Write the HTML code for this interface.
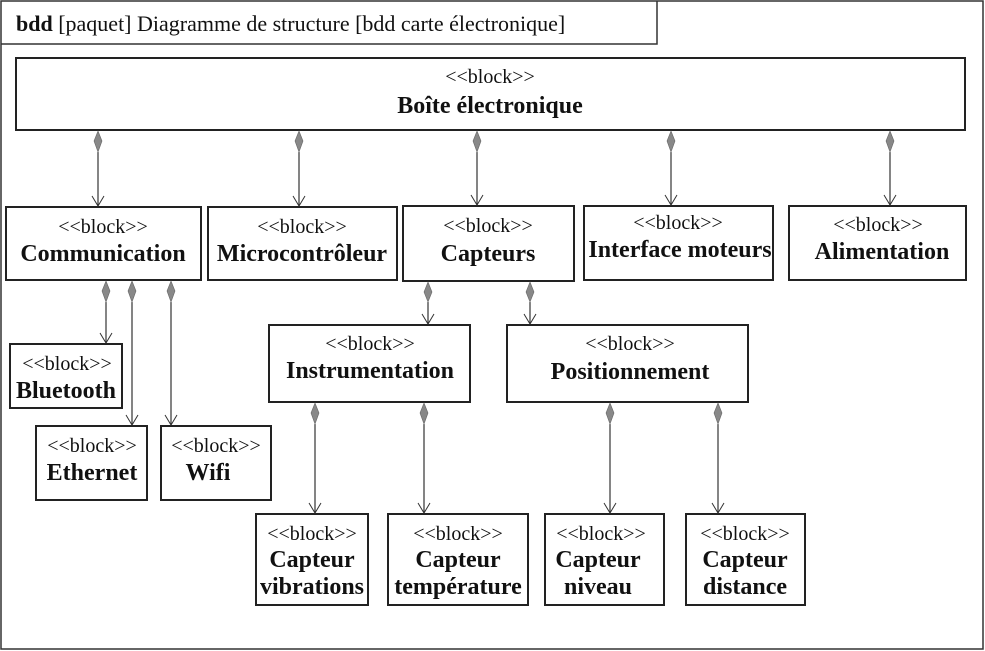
<!DOCTYPE html>
<html><head><meta charset="utf-8"><style>
html,body{margin:0;padding:0;background:#fff}
svg{display:block}
text{font-family:"Liberation Serif",serif;fill:#111}
.s{font-size:20px}
.b{font-size:24px;font-weight:bold}
</style></head><body>
<svg width="985" height="651" viewBox="0 0 985 651">
<defs>
<marker id="a" markerWidth="14" markerHeight="14" refX="12" refY="7" orient="auto" markerUnits="userSpaceOnUse">
<path d="M2,1 L12,7 L2,13" fill="none" stroke="#333" stroke-width="1"/></marker>
</defs>
<rect x="1" y="1" width="982" height="648" fill="none" stroke="#333" stroke-width="1.5"/>
<path d="M1,44 H657 V1" fill="none" stroke="#333" stroke-width="1.5"/>
<text x="16" y="31" style="font-size:22px"><tspan font-weight="bold">bdd</tspan> [paquet] Diagramme de structure [bdd carte électronique]</text>
<g fill="#fff" stroke="#222" stroke-width="2">
<rect x="16" y="58" width="949" height="72"/>
<rect x="6" y="207" width="195" height="73"/>
<rect x="208" y="207" width="189" height="73"/>
<rect x="403" y="206" width="171" height="75"/>
<rect x="584" y="206" width="189" height="74"/>
<rect x="789" y="206" width="177" height="74"/>
<rect x="10" y="344" width="112" height="64"/>
<rect x="36" y="426" width="111" height="74"/>
<rect x="161" y="426" width="110" height="74"/>
<rect x="269" y="325" width="201" height="77"/>
<rect x="507" y="325" width="241" height="77"/>
<rect x="256" y="514" width="112" height="91"/>
<rect x="388" y="514" width="140" height="91"/>
<rect x="545" y="514" width="119" height="91"/>
<rect x="686" y="514" width="119" height="91"/>
</g>
<g text-anchor="middle">
<text class="s" x="490" y="83">&lt;&lt;block&gt;&gt;</text><text class="b" x="490" y="113">Boîte électronique</text>
<text class="s" x="103" y="233">&lt;&lt;block&gt;&gt;</text><text class="b" x="103" y="261">Communication</text>
<text class="s" x="302" y="233">&lt;&lt;block&gt;&gt;</text><text class="b" x="302" y="261">Microcontrôleur</text>
<text class="s" x="488" y="232">&lt;&lt;block&gt;&gt;</text><text class="b" x="488" y="261">Capteurs</text>
<text class="s" x="678" y="229">&lt;&lt;block&gt;&gt;</text><text class="b" x="680" y="257">Interface moteurs</text>
<text class="s" x="878" y="231">&lt;&lt;block&gt;&gt;</text><text class="b" x="882" y="259">Alimentation</text>
<text class="s" x="67" y="370">&lt;&lt;block&gt;&gt;</text><text class="b" x="66" y="398">Bluetooth</text>
<text class="s" x="92" y="452">&lt;&lt;block&gt;&gt;</text><text class="b" x="92" y="480">Ethernet</text>
<text class="s" x="216" y="452">&lt;&lt;block&gt;&gt;</text><text class="b" x="208" y="480">Wifi</text>
<text class="s" x="370" y="350">&lt;&lt;block&gt;&gt;</text><text class="b" x="370" y="378">Instrumentation</text>
<text class="s" x="630" y="350">&lt;&lt;block&gt;&gt;</text><text class="b" x="630" y="379">Positionnement</text>
<text class="s" x="312" y="540">&lt;&lt;block&gt;&gt;</text><text class="b" x="312" y="567">Capteur</text><text class="b" x="312" y="594">vibrations</text>
<text class="s" x="458" y="540">&lt;&lt;block&gt;&gt;</text><text class="b" x="458" y="567">Capteur</text><text class="b" x="458" y="594">température</text>
<text class="s" x="601" y="540">&lt;&lt;block&gt;&gt;</text><text class="b" x="598" y="567">Capteur</text><text class="b" x="598" y="594">niveau</text>
<text class="s" x="745" y="540">&lt;&lt;block&gt;&gt;</text><text class="b" x="745" y="567">Capteur</text><text class="b" x="745" y="594">distance</text>
</g>
<g stroke="#333" stroke-width="1.2" fill="none" marker-end="url(#a)">
<path d="M98,152 V206"/><path d="M299,152 V206"/><path d="M477,152 V205"/><path d="M671,152 V205"/><path d="M890,152 V205"/>
<path d="M106,302 V343"/><path d="M132,302 V425"/><path d="M171,302 V425"/>
<path d="M428,302 V324"/><path d="M530,302 V324"/>
<path d="M315,424 V513"/><path d="M424,424 V513"/>
<path d="M610,424 V513"/><path d="M718,424 V513"/>
</g>
<g fill="#888" stroke="#666" stroke-width="0.6">
<path d="M98,131 l4,10 l-4,11 l-4,-11z"/><path d="M299,131 l4,10 l-4,11 l-4,-11z"/><path d="M477,131 l4,10 l-4,11 l-4,-11z"/><path d="M671,131 l4,10 l-4,11 l-4,-11z"/><path d="M890,131 l4,10 l-4,11 l-4,-11z"/>
<path d="M106,281 l4,10 l-4,11 l-4,-11z"/><path d="M132,281 l4,10 l-4,11 l-4,-11z"/><path d="M171,281 l4,10 l-4,11 l-4,-11z"/>
<path d="M428,282 l4,10 l-4,10 l-4,-10z"/><path d="M530,282 l4,10 l-4,10 l-4,-10z"/>
<path d="M315,403 l4,10 l-4,11 l-4,-11z"/><path d="M424,403 l4,10 l-4,11 l-4,-11z"/>
<path d="M610,403 l4,10 l-4,11 l-4,-11z"/><path d="M718,403 l4,10 l-4,11 l-4,-11z"/>
</g>
</svg>
</body></html>
